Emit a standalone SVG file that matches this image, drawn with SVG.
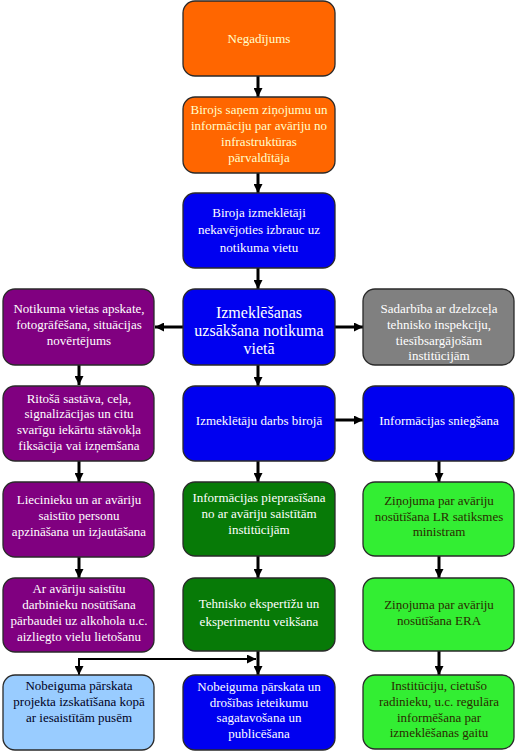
<svg xmlns="http://www.w3.org/2000/svg" width="516" height="752" viewBox="0 0 516 752" font-family="'Liberation Serif', 'Times New Roman', 'DejaVu Serif', serif">
<style>
.b{stroke:#2a2a2a;stroke-width:1.3}
.or{fill:#FF6600}.bl{fill:#0000F0}.pu{fill:#800080}.gr{fill:#808080}.dg{fill:#077A07}.lg{fill:#33EE33}.lb{fill:#99CCFF}
text{font-family:'Liberation Serif','Times New Roman','DejaVu Serif',serif;font-size:13px;text-anchor:middle}
.tw{fill:#FFFFFF}.tc{fill:#FFFFCC}.td{fill:#2A2A00}.tk{fill:#000022}
.big{font-size:16px}
.c{fill:none;stroke:#000;stroke-width:3}
.c2{fill:none;stroke:#000;stroke-width:2}
</style>
<defs>
<marker id="ah" viewBox="0 0 10 10" refX="10" refY="5" markerWidth="9" markerHeight="9" markerUnits="userSpaceOnUse" orient="auto-start-reverse">
<path d="M0,0 L10,5 L0,10 z" fill="#000"/>
</marker>
</defs>
<rect width="516" height="752" fill="#fff"/>

<g id="connectors">
<path class="c" d="M258,76 V97" marker-end="url(#ah)"/>
<path class="c" d="M258,173 V193" marker-end="url(#ah)"/>
<path class="c" d="M258,268 V289" marker-end="url(#ah)"/>
<path class="c" d="M258,365 V386" marker-end="url(#ah)"/>
<path class="c" d="M258,461 V482" marker-end="url(#ah)"/>
<path class="c" d="M258,556 V578" marker-end="url(#ah)"/>
<path class="c" d="M258,651 V675" marker-end="url(#ah)"/>
<path class="c" d="M79,365 V385" marker-end="url(#ah)"/>
<path class="c" d="M79,461 V482" marker-end="url(#ah)"/>
<path class="c" d="M79,556 V578" marker-end="url(#ah)"/>
<path class="c" d="M439,461 V482" marker-end="url(#ah)"/>
<path class="c" d="M439,556 V578" marker-end="url(#ah)"/>
<path class="c" d="M439,651 V675" marker-end="url(#ah)"/>
<path class="c" d="M183,327 H155" marker-end="url(#ah)"/>
<path class="c" d="M335,327 H363" marker-end="url(#ah)"/>
<path class="c" d="M335,420 H363" marker-end="url(#ah)"/>
<path class="c2" d="M79,675 V659 H256" marker-start="url(#ah)" marker-end="url(#ah)"/>
</g>

<g id="n_negadijums"><rect class="b or" x="183" y="1" width="152" height="75" rx="12"/>
<text class="tc" x="259" y="43">Negadījums</text></g>

<g id="n_birojs_sanem"><rect class="b or" x="183" y="97" width="152" height="76" rx="12"/>
<text class="tc" x="259" y="113.5">Birojs saņem ziņojumu un</text>
<text class="tc" x="259" y="129.5">informāciju par avāriju no</text>
<text class="tc" x="259" y="145.5">infrastruktūras</text>
<text class="tc" x="259" y="161.5">pārvaldītāja</text></g>

<g id="n_izbrauc"><rect class="b bl" x="183" y="193" width="152" height="75" rx="12"/>
<text class="tw" x="259" y="216.5">Biroja izmeklētāji</text>
<text class="tw" x="259" y="234">nekavējoties izbrauc uz</text>
<text class="tw" x="259" y="251.5">notikuma vietu</text></g>

<g id="n_uzsaksana"><rect class="b bl" x="183" y="289" width="152" height="76" rx="12"/>
<text class="tw big" x="259" y="317.5">Izmeklēšanas</text>
<text class="tw big" x="259" y="335.5">uzsākšana notikuma</text>
<text class="tw big" x="259" y="353.5">vietā</text></g>

<g id="n_darbs_biroja"><rect class="b bl" x="183" y="386" width="152" height="75" rx="12"/>
<text class="tw" x="259" y="424.5">Izmeklētāju darbs birojā</text></g>

<g id="n_pieprasisana"><rect class="b dg" x="183" y="482" width="152" height="74" rx="12"/>
<text class="tw" x="259" y="502">Informācijas pieprasīšana</text>
<text class="tw" x="259" y="518">no ar avāriju saistītām</text>
<text class="tw" x="259" y="534">institūcijām</text></g>

<g id="n_ekspertizes"><rect class="b dg" x="183" y="578" width="152" height="73" rx="12"/>
<text class="tw" x="259" y="607.5">Tehnisko ekspertīžu un</text>
<text class="tw" x="259" y="626">eksperimentu veikšana</text></g>

<g id="n_nobeiguma"><rect class="b bl" x="183" y="675" width="152" height="75" rx="12"/>
<text class="tw" x="259" y="690.5">Nobeiguma pārskata un</text>
<text class="tw" x="259" y="706.5">drošības ieteikumu</text>
<text class="tw" x="259" y="722">sagatavošana un</text>
<text class="tw" x="259" y="737.5">publicēšana</text></g>

<g id="n_apskate"><rect class="b pu" x="3" y="289" width="151" height="76" rx="12"/>
<text class="tw" x="79" y="312.5">Notikuma vietas apskate,</text>
<text class="tw" x="79" y="328.5">fotogrāfēšana, situācijas</text>
<text class="tw" x="79" y="344.5">novērtējums</text></g>

<g id="n_fiksacija"><rect class="b pu" x="3" y="386" width="151" height="75" rx="12"/>
<text class="tw" x="79" y="402.5">Ritošā sastāva, ceļa,</text>
<text class="tw" x="79" y="418">signalizācijas un citu</text>
<text class="tw" x="79" y="433.5">svarīgu iekārtu stāvokļa</text>
<text class="tw" x="79" y="449.5">fiksācija vai izņemšana</text></g>

<g id="n_liecinieki"><rect class="b pu" x="3" y="482" width="151" height="75" rx="12"/>
<text class="tw" x="79" y="504">Liecinieku un ar avāriju</text>
<text class="tw" x="79" y="520">saistīto personu</text>
<text class="tw" x="79" y="536">apzināšana un izjautāšana</text></g>

<g id="n_alkohols"><rect class="b pu" x="3" y="578" width="151" height="74" rx="12"/>
<text class="tw" x="79" y="592.5">Ar avāriju saistītu</text>
<text class="tw" x="79" y="608.5">darbinieku nosūtīšana</text>
<text class="tw" x="79" y="624.5">pārbaudei uz alkohola u.c.</text>
<text class="tw" x="79" y="640.5">aizliegto vielu lietošanu</text></g>

<g id="n_projekts"><rect class="b lb" x="3" y="675" width="151" height="75" rx="12"/>
<text class="tk" x="79" y="689.5">Nobeiguma pārskata</text>
<text class="tk" x="79" y="705.5">projekta izskatīšana kopā</text>
<text class="tk" x="79" y="721.5">ar iesaistītām pusēm</text></g>

<g id="n_sadarbiba"><rect class="b gr" x="363" y="289" width="151" height="76" rx="12"/>
<text class="tw" x="439" y="312.5">Sadarbība ar dzelzceļa</text>
<text class="tw" x="439" y="328.5">tehnisko inspekciju,</text>
<text class="tw" x="439" y="344.5">tiesībsargājošām</text>
<text class="tw" x="439" y="359.5">institūcijām</text></g>

<g id="n_sniegsana"><rect class="b bl" x="363" y="386" width="151" height="75" rx="12"/>
<text class="tw" x="439" y="424.5">Informācijas sniegšana</text></g>

<g id="n_ministram"><rect class="b lg" x="363" y="482" width="151" height="74" rx="12"/>
<text class="td" x="439" y="505">Ziņojuma par avāriju</text>
<text class="td" x="439" y="520.5">nosūtīšana LR satiksmes</text>
<text class="td" x="439" y="536">ministram</text></g>

<g id="n_era"><rect class="b lg" x="363" y="578" width="151" height="73" rx="12"/>
<text class="td" x="439" y="608.5">Ziņojuma par avāriju</text>
<text class="td" x="439" y="624.5">nosūtīšana ERA</text></g>

<g id="n_informesana"><rect class="b lg" x="363" y="675" width="151" height="74" rx="12"/>
<text class="td" x="439" y="689.5">Institūciju, cietušo</text>
<text class="td" x="439" y="705.5">radinieku, u.c. regulāra</text>
<text class="td" x="439" y="721.5">informēšana par</text>
<text class="td" x="439" y="737">izmeklēšanas gaitu</text></g>
</svg>
